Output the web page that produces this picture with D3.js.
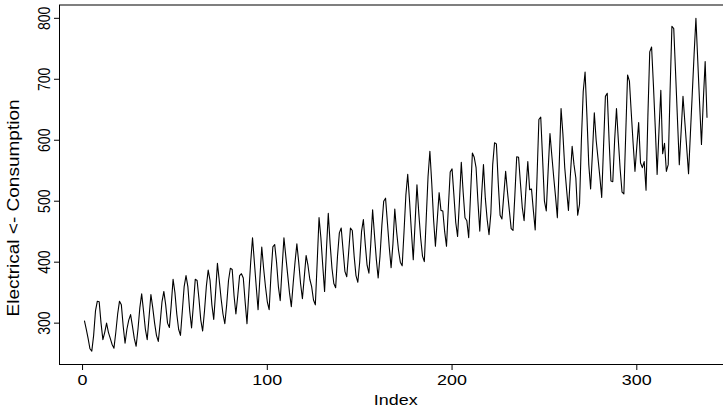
<!DOCTYPE html>
<html>
<head>
<meta charset="utf-8">
<script src="https://cdn.jsdelivr.net/npm/d3@7"></script>
<style>
  body { margin: 0; background: #fff; }
  svg { display: block; font-family: "Liberation Sans", Arial, Helvetica, sans-serif; }
</style>
</head>
<body>
<div class="main-container"></div>
<script>
// monthly values, one row per year
const consumption = [
    304, 290, 275, 258, 254, 280, 320, 336, 335, 300, 273, 285,
    300, 285, 275, 265, 259, 285, 315, 336, 330, 295, 267, 290,
    305, 314, 295, 275, 262, 290, 325, 348, 320, 290, 273, 310,
    347, 325, 300, 280, 270, 300, 335, 352, 330, 300, 293, 330,
    372, 350, 315, 290, 280, 320, 360, 378, 360, 320, 292, 330,
    372, 370, 340, 305, 287, 320, 360, 387, 370, 330, 306, 350,
    398, 370, 340, 315, 299, 330, 370, 390, 388, 345, 315, 345,
    378, 381, 374, 335, 299, 350, 400, 440, 400, 360, 322, 375,
    425, 390, 360, 335, 322, 380, 425, 429, 400, 360, 337, 390,
    440, 410, 380, 350, 327, 365, 400, 430, 400, 365, 340, 375,
    411, 395, 372, 360, 338, 330, 400, 473, 440, 395, 352, 420,
    480, 430, 390, 365, 358, 410, 448, 456, 420, 385, 376, 415,
    456, 452, 410, 378, 367, 400, 450, 470, 430, 395, 382, 430,
    486, 445, 405, 374, 410, 460, 500, 505, 465, 425, 391, 430,
    487, 450, 420, 400, 394, 450, 510, 544, 500, 450, 404, 465,
    527, 480, 440, 410, 401, 470, 540, 582, 530, 470, 426, 470,
    514, 485, 484, 450, 426, 490, 548, 553, 510, 465, 442, 500,
    564, 515, 473, 468, 440, 510, 579, 572, 555, 500, 451, 510,
    560, 505, 470, 445, 480, 560, 596, 594, 530, 477, 471, 510,
    549, 515, 485, 455, 452, 510, 573, 572, 530, 490, 468, 520,
    565, 519, 520, 485, 453, 540, 634, 638, 570, 500, 484, 550,
    611, 575, 540, 508, 473, 560, 652, 610, 555, 519, 485, 540,
    590, 560, 538, 477, 495, 600, 680, 712, 640, 560, 520, 580,
    645, 600, 570, 540, 506, 590, 672, 677, 600, 533, 532, 600,
    652, 600, 552, 515, 512, 610, 707, 697, 645, 595, 549, 590,
    629, 563, 555, 565, 518, 640, 745, 753, 690, 620, 544, 615,
    682, 578, 595, 549, 560, 680, 787, 783, 710, 635, 560, 615,
    672, 630, 588, 545, 610, 675, 740, 800, 730, 660, 593, 665,
    729, 637
];
const xTicks = [0, 100, 200, 300];
const yTicks = [300, 400, 500, 600, 700, 800];
const xLabel = "Index";
const yLabel = "Electrical <- Consumption";

const width = 723;
const height = 408;

const svg = d3.select(".main-container")
    .append("svg")
    .attr("width", width)
    .attr("height", height);

// R style 4% padding on both axes
const n = consumption.length;
const padX = 0.04 * (n - 1);
const ext = d3.extent(consumption);
const padY = 0.04 * (ext[1] - ext[0]);

const x = d3.scaleLinear()
    .domain([1 - padX, n + padX])
    .range([59.5, 59.5 + 1.8475 * (n - 1 + 2 * padX)]);
const y = d3.scaleLinear()
    .domain([ext[0] - padY, ext[1] + padY])
    .range([364.5, 5]);

const line = d3.line()
    .x((d, i) => x(i + 1))
    .y(d => y(d));

svg.append("path")
    .datum(consumption)
    .attr("d", line)
    .attr("fill", "none")
    .attr("stroke", "#000")
    .attr("stroke-width", 1.1)
    .attr("stroke-linejoin", "round");

// box (right side falls outside the window)
svg.append("rect")
    .attr("x", x.range()[0])
    .attr("y", y.range()[1])
    .attr("width", x.range()[1] - x.range()[0])
    .attr("height", y.range()[0] - y.range()[1])
    .attr("fill", "none")
    .attr("stroke", "#000")
    .attr("stroke-width", 1);

// x axis
svg.selectAll(".xtick")
    .data(xTicks)
    .enter()
    .append("line")
    .attr("x1", d => x(d))
    .attr("x2", d => x(d))
    .attr("y1", y.range()[0])
    .attr("y2", y.range()[0] + 5.5)
    .attr("stroke", "#000");

svg.selectAll(".xlab")
    .data(xTicks)
    .enter()
    .append("g")
    .attr("transform", d => "translate(" + x(d) + ",385) scale(1.28,1)")
    .append("text")
    .attr("text-anchor", "middle")
    .style("font-size", "14px")
    .text(d => d);

svg.append("g")
    .attr("transform", "translate(" + (x.range()[0] + x.range()[1]) / 2 + ",405) scale(1.28,1)")
    .append("text")
    .attr("text-anchor", "middle")
    .style("font-size", "14px")
    .text(xLabel);

// y axis
svg.selectAll(".ytick")
    .data(yTicks)
    .enter()
    .append("line")
    .attr("x1", x.range()[0] - 5.5)
    .attr("x2", x.range()[0])
    .attr("y1", d => y(d))
    .attr("y2", d => y(d))
    .attr("stroke", "#000");

svg.selectAll(".ylab")
    .data(yTicks)
    .enter()
    .append("g")
    .attr("transform", d => "translate(50," + y(d) + ") scale(1.2,1) rotate(-90)")
    .append("text")
    .attr("text-anchor", "middle")
    .style("font-size", "14px")
    .text(d => d);

svg.append("g")
    .attr("transform", "translate(19.3,208) scale(1.2,1) rotate(-90)")
    .append("text")
    .attr("text-anchor", "middle")
    .attr("textLength", 217)
    .attr("lengthAdjust", "spacingAndGlyphs")
    .style("font-size", "14px")
    .text(yLabel);
</script>
</body>
</html>
